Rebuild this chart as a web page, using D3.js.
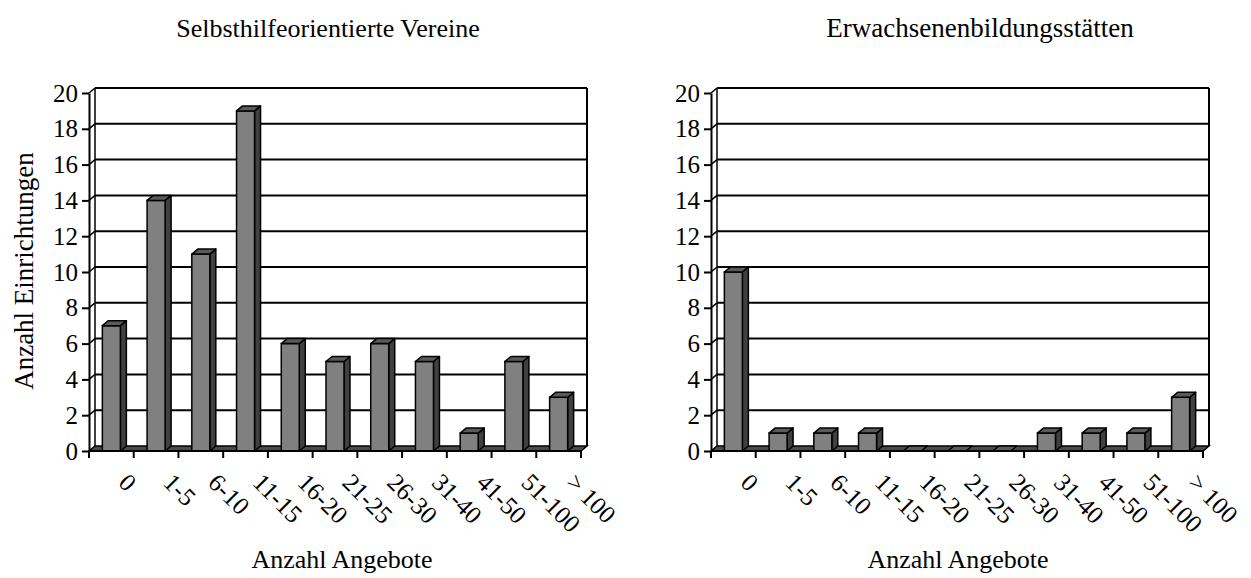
<!DOCTYPE html>
<html>
<head>
<meta charset="utf-8">
<script src="https://cdn.jsdelivr.net/npm/d3@7"></script>
<style>
  html, body { margin: 0; padding: 0; background: #fff; }
  svg { display: block; }
  text { font-family: "Liberation Serif", "Times New Roman", serif; fill: #000; }
</style>
</head>
<body>
<svg id="chart" width="1251" height="578"></svg>
<script>
const categories = ["0", "1-5", "6-10", "11-15", "16-20", "21-25", "26-30", "31-40", "41-50", "51-100", "> 100"];
const valuesVereine = [7, 14, 11, 19, 6, 5, 6, 5, 1, 5, 3];
const valuesErwachsenen = [10, 1, 1, 1, 0, 0, 0, 1, 1, 1, 3];
const yTickValues = [0, 2, 4, 6, 8, 10, 12, 14, 16, 18, 20];
const panelTitles = ["Selbsthilfeorientierte Vereine", "Erwachsenenbildungsstätten"];
const yAxisTitle = "Anzahl Einrichtungen";
const xAxisTitle = "Anzahl Angebote";

const svg = d3.select("#chart");

const panels = [
  { values: valuesVereine, title: panelTitles[0], x0: 89, x1: 581, titleX: 328, titleSize: 26, xTitleX: 342, showYTitle: true },
  { values: valuesErwachsenen, title: panelTitles[1], x0: 711, x1: 1203, titleX: 980, titleSize: 27, xTitleX: 958, showYTitle: false }
];

const yFront0 = 451, yFront20 = 93;
const dx = 6, dy = 5;           // wall depth
const bdx = 6, bdy = 5;         // bar depth
const barW = 18;

panels.forEach(p => {
  const g = svg.append("g");
  const x = d3.scaleBand().domain(categories).range([p.x0, p.x1]).paddingInner(0).paddingOuter(0);
  const y = d3.scaleLinear().domain([0, 20]).range([yFront0, yFront20]);

  // back wall gridlines
  yTickValues.forEach(v => {
    if (v === 0) return;
    g.append("line")
      .attr("x1", p.x0 + dx).attr("x2", p.x1 + dx)
      .attr("y1", y(v) - dy).attr("y2", y(v) - dy)
      .attr("stroke", "#000").attr("stroke-width", 2);
    g.append("line")
      .attr("x1", p.x0).attr("x2", p.x0 + dx)
      .attr("y1", y(v)).attr("y2", y(v) - dy)
      .attr("stroke", "#000").attr("stroke-width", 1.5);
  });
  // left wall back edge
  g.append("line")
    .attr("x1", p.x0 + dx).attr("x2", p.x0 + dx)
    .attr("y1", y(20) - dy).attr("y2", y(0) - dy)
    .attr("stroke", "#000").attr("stroke-width", 1.5);
  // right wall edge
  g.append("line")
    .attr("x1", p.x1 + dx).attr("x2", p.x1 + dx)
    .attr("y1", y(20) - dy).attr("y2", y(0) - dy)
    .attr("stroke", "#000").attr("stroke-width", 2);

  // floor
  g.append("polygon")
    .attr("points", [[p.x0, y(0)], [p.x1, y(0)], [p.x1 + dx, y(0) - dy], [p.x0 + dx, y(0) - dy]].map(d => d.join(",")).join(" "))
    .attr("fill", "#4a4a4a").attr("stroke", "#000").attr("stroke-width", 1.5);

  // bars
  categories.forEach((c, i) => {
    const v = p.values[i];
    const cx = x(c) + x.bandwidth() / 2;
    const bl = cx - barW / 2, br = cx + barW / 2;
    const yt = y(v), yb = y(0);
    if (v > 0) {
      g.append("polygon")
        .attr("points", [[br, yb], [br + bdx, yb - bdy], [br + bdx, yt - bdy], [br, yt]].map(d => d.join(",")).join(" "))
        .attr("fill", "#404040").attr("stroke", "#000").attr("stroke-width", 1.5).attr("stroke-linejoin", "round");
      g.append("rect")
        .attr("x", bl).attr("y", yt).attr("width", barW).attr("height", yb - yt)
        .attr("fill", "#808080").attr("stroke", "#000").attr("stroke-width", 1.5);
    }
    g.append("polygon")
      .attr("points", [[bl, yt], [br, yt], [br + bdx, yt - bdy], [bl + bdx, yt - bdy]].map(d => d.join(",")).join(" "))
      .attr("fill", "#5a5a5a").attr("stroke", "#000").attr("stroke-width", 1.5).attr("stroke-linejoin", "round");
  });

  // y axis
  const yAxis = d3.axisLeft(y).tickValues(yTickValues).tickSize(7).tickSizeOuter(0).tickPadding(4);
  const ya = g.append("g").attr("transform", `translate(${p.x0},0)`).call(yAxis);
  ya.select(".domain").attr("stroke", "#000").attr("stroke-width", 2);
  ya.selectAll(".tick line").attr("stroke", "#000").attr("stroke-width", 2);
  ya.selectAll(".tick text").attr("font-size", 25).attr("fill", "#000");

  // x axis line & boundary ticks
  g.append("line")
    .attr("x1", p.x0).attr("x2", p.x1).attr("y1", y(0)).attr("y2", y(0))
    .attr("stroke", "#000").attr("stroke-width", 2);
  const bounds = categories.map(c => x(c)).concat([p.x1]);
  bounds.forEach(b => {
    g.append("line").attr("x1", b).attr("x2", b).attr("y1", y(0)).attr("y2", y(0) + 7)
      .attr("stroke", "#000").attr("stroke-width", 2);
  });
  categories.forEach(c => {
    const cx = x(c) + x.bandwidth() / 2;
    g.append("text")
      .attr("transform", `translate(${cx + 6},484) rotate(45)`)
      .attr("text-anchor", "start")
      .attr("font-size", 25)
      .text(c);
  });

  // titles
  g.append("text").attr("x", p.titleX).attr("y", 37).attr("text-anchor", "middle")
    .attr("font-size", p.titleSize).text(p.title);
  g.append("text").attr("x", p.xTitleX).attr("y", 568).attr("text-anchor", "middle")
    .attr("font-size", 26).text(xAxisTitle);
  if (p.showYTitle) {
    g.append("text").attr("transform", "translate(33,271) rotate(-90)").attr("text-anchor", "middle")
      .attr("font-size", 27).text(yAxisTitle);
  }
});
</script>
</body>
</html>
